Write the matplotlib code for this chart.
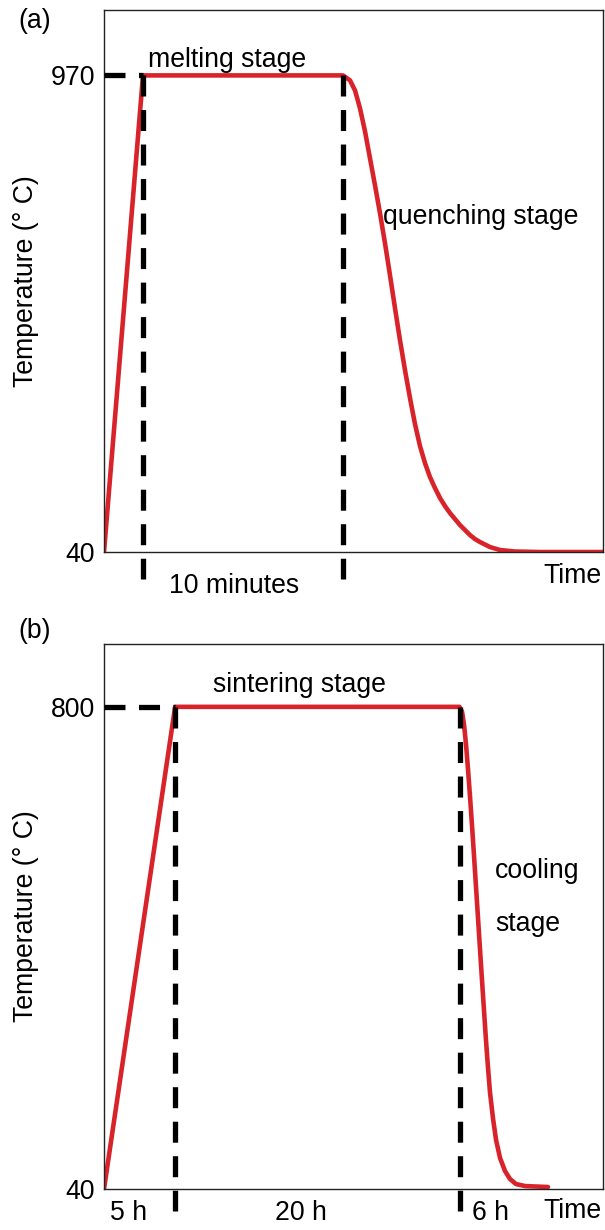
import matplotlib
matplotlib.use("Agg")
import matplotlib.pyplot as plt

plt.rcParams['font.family'] = ['Liberation Sans', 'DejaVu Sans']
plt.rcParams['font.size'] = 19.2

# (a) melting + quenching, time in minutes
tempo_a = [0, 1.95, 11.95, 12.3, 12.55, 12.8, 13.05, 13.3, 13.55, 13.8, 14.05, 14.3,
           14.55, 14.8, 15.05, 15.3, 15.55, 15.8, 16.05, 16.3, 16.55, 16.8, 17.05,
           17.3, 17.55, 17.8, 18.05, 18.3, 18.55, 18.8, 19.3, 19.8, 20.55, 21.8, 24.95]
temp_a = [40, 970, 970, 960.3, 940.8, 905.7, 860.9, 808.2, 755.5, 701, 642.5, 580.1,
          515.7, 453.3, 394.8, 340.3, 289.6, 246.7, 213.5, 186.2, 164.8, 145.3, 129.7,
          116, 104.3, 92.6, 82.9, 73.1, 65.3, 59.5, 49.7, 43.9, 41, 40, 40]
marcas_a = [1.95, 11.95]      # fim da rampa / fim do patamar
yticks_a = [40, 970]

# (b) sintering + cooling, time in hours
tempo_b = [0, 5, 25, 25.18, 25.32, 25.46, 25.6, 25.74, 25.88, 26.02, 26.16, 26.3,
           26.44, 26.58, 26.72, 26.86, 27.0, 27.14, 27.36, 27.57, 27.85, 28.2, 28.55,
           28.97, 29.61, 31.22]
temp_b = [40, 800, 800, 792.1, 771.6, 740.1, 700.7, 658.1, 612.4, 565.1, 516.2, 467.3,
          418.4, 369.5, 322.2, 274.9, 232.4, 192.9, 150.4, 117.3, 88.9, 68.4, 55.8,
          47.9, 44.7, 43.2]
marcas_b = [5, 25]
yticks_b = [40, 800]

vermelho = '#d8232a'
traco = (0, (3.98, 2.56))

fig = plt.figure(figsize=(6.05, 12.3), dpi=100)
ax_a = fig.add_axes([0.1719, 0.5512, 0.8248, 0.4407])
ax_b = fig.add_axes([0.1719, 0.0333, 0.8248, 0.4431])


def desenha(ax, tempo, temp, marcas, yticks, xmax, ymax, ybaixo):
    ax.plot(tempo, temp, color=vermelho, lw=3.3, solid_joinstyle='round',
            solid_capstyle='round', zorder=2)
    topo = yticks[1]
    ax.plot([0, marcas[0]], [topo, topo], color='black', lw=3.8, ls=traco,
            zorder=3, clip_on=False)
    for m in marcas:
        ax.plot([m, m], [topo, ybaixo], color='black', lw=3.8, ls=traco,
                zorder=3, clip_on=False)
    ax.set_xlim(0, xmax)
    ax.set_ylim(40, ymax)
    ax.set_xticks([])
    ax.set_yticks(yticks, [str(v) for v in yticks])
    ax.tick_params(axis='y', length=0, pad=6.5, labelsize=19.2)
    for s in ax.spines.values():
        s.set_linewidth(1.0)
        s.set_color('#222222')
    ax.set_ylabel('Temperature (° C)', fontsize=19.2)
    ax.yaxis.set_label_coords(-0.13, 0.5)


desenha(ax_a, tempo_a, temp_a, marcas_a, yticks_a, 24.95, 1097.7, -12.6)
desenha(ax_b, tempo_b, temp_b, marcas_b, yticks_b, 35.09, 899, 5.3)

# textos (a)
ax_a.text(2.2, 985.6, 'melting stage', va='baseline')
ax_a.text(13.95, 681, 'quenching stage', va='baseline')
ax_a.text(3.25, -40, '10 minutes', va='baseline', clip_on=False)
ax_a.text(24.85, -20, 'Time', ha='right', va='baseline', clip_on=False)

# textos (b)
ax_b.text(7.67, 823.7, 'sintering stage', va='baseline')
ax_b.text(27.5, 40 + (1189 - 878) / 0.6342, 'cooling', va='baseline')
ax_b.text(27.5, 40 + (1189 - 931) / 0.6342, 'stage', va='baseline')
ax_b.text(0.42, -8.9, '5 h', va='baseline', clip_on=False)
ax_b.text(12.03, -8.9, '20 h', va='baseline', clip_on=False)
ax_b.text(25.88, -8.9, '6 h', va='baseline', clip_on=False)
ax_b.text(34.95, -5.7, 'Time', ha='right', va='baseline', clip_on=False)

fig.text(0.0298, 0.983, '(a)', va='center', fontsize=19.2)
fig.text(0.0298, 0.487, '(b)', va='center', fontsize=19.2)

fig.savefig('out.png', dpi=100)
